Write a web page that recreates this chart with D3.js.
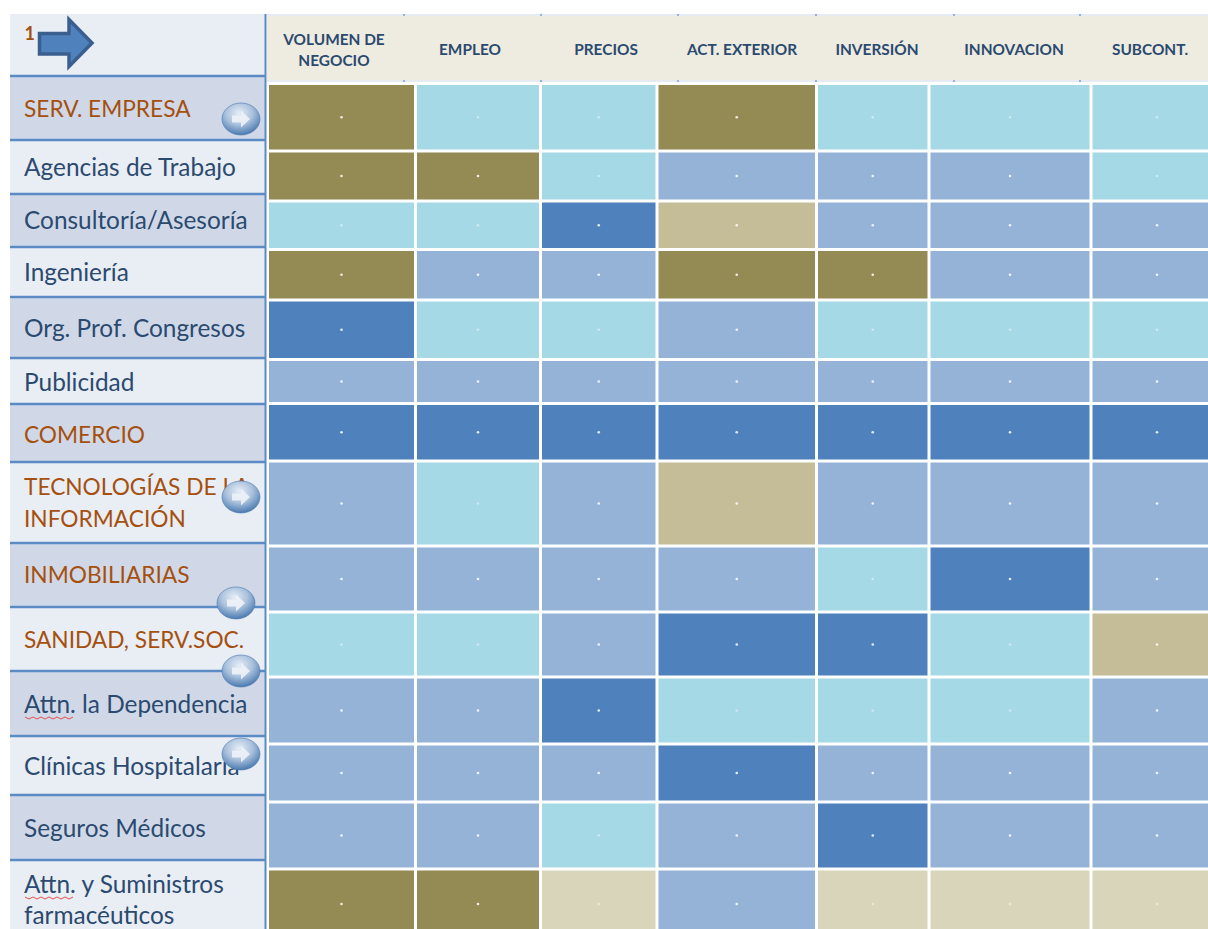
<!DOCTYPE html>
<html>
<head>
<meta charset="utf-8">
<title>Mapa de sectores</title>
<style>
  html, body { margin: 0; padding: 0; background: #fff; overflow: hidden; }
  svg { display: block; }
  text { font-family: Lato, "Open Sans", sans-serif; }
</style>
</head>
<body>
<svg id="chart" width="1208" height="929"></svg>
<script src="https://cdn.jsdelivr.net/npm/d3@7"></script>
<script>
'use strict';

const columns = ['VOLUMEN DE NEGOCIO', 'EMPLEO', 'PRECIOS', 'ACT. EXTERIOR', 'INVERSIÓN', 'INNOVACION', 'SUBCONT.'];

const rows = [
  'SERV. EMPRESA', 'Agencias de Trabajo', 'Consultoría/Asesoría', 'Ingeniería',
  'Org. Prof. Congresos', 'Publicidad', 'COMERCIO', 'TECNOLOGÍAS DE LA INFORMACIÓN',
  'INMOBILIARIAS', 'SANIDAD, SERV.SOC.', 'Attn. la Dependencia', 'Clínicas Hospitalaria',
  'Seguros Médicos', 'Attn. y Suministros farmacéuticos'
];

// Rows that are a whole sector, written in brown in the side panel.
const sectors = ['SERV. EMPRESA', 'COMERCIO', 'TECNOLOGÍAS DE LA INFORMACIÓN', 'INMOBILIARIAS', 'SANIDAD, SERV.SOC.'];

// Level of every cell, row by row, in column order.
const levels = [
  ['olive', 'teal', 'teal', 'olive', 'teal', 'teal', 'teal'],
  ['olive', 'olive', 'teal', 'mid', 'mid', 'mid', 'teal'],
  ['teal', 'teal', 'dark', 'tan', 'mid', 'mid', 'mid'],
  ['olive', 'mid', 'mid', 'olive', 'olive', 'mid', 'mid'],
  ['dark', 'teal', 'teal', 'mid', 'teal', 'teal', 'teal'],
  ['mid', 'mid', 'mid', 'mid', 'mid', 'mid', 'mid'],
  ['dark', 'dark', 'dark', 'dark', 'dark', 'dark', 'dark'],
  ['mid', 'teal', 'mid', 'tan', 'mid', 'mid', 'mid'],
  ['mid', 'mid', 'mid', 'mid', 'teal', 'dark', 'mid'],
  ['teal', 'teal', 'mid', 'dark', 'dark', 'teal', 'tan'],
  ['mid', 'mid', 'dark', 'teal', 'teal', 'teal', 'mid'],
  ['mid', 'mid', 'mid', 'dark', 'mid', 'mid', 'mid'],
  ['mid', 'mid', 'teal', 'mid', 'dark', 'mid', 'mid'],
  ['olive', 'olive', 'pale', 'mid', 'pale', 'pale', 'pale']
];

const levelNames = ['olive', 'teal', 'mid', 'dark', 'tan', 'pale'];
const levelColors = ['#948a54', '#a5d9e5', '#95b3d7', '#4f81bd', '#c4bd97', '#d9d5ba'];

// Layout of the picture: the grid is not regular, so band edges are listed.
// The last column and row run on past the edge of the picture.
const colEdges = [267.5, 415.5, 540.5, 657, 816.5, 929, 1091, 1223];
const rowEdges = [83.5, 151, 201, 249.5, 300, 359.5, 403.5, 461, 546, 612, 677, 744, 802, 869, 939];
const headEdges = [267, 404, 541, 678, 816, 954, 1080, 1208];
const headLabelX = [334, 470, 606, 742, 877, 1014, 1150];
const panelEdges = [14, 76, 140, 194, 247, 297, 358, 404, 462, 543, 607, 671, 736, 795, 860, 929];
const panelLabelY = [[117], [176], [229], [281], [337], [391], [443], [495, 527], [583], [648], [713], [775], [837], [893, 924]];
const buttons = [[241, 119], [241, 497], [236, 603], [241, 671], [241, 754]];

const svg = d3.select('#chart');
const color = d3.scaleOrdinal().domain(levelNames).range(levelColors);

// Piecewise linear scales: index of a band -> its edge.
const x = d3.scaleLinear().domain(d3.range(colEdges.length)).range(colEdges);
const y = d3.scaleLinear().domain(d3.range(rowEdges.length)).range(rowEdges);
const headX = d3.scaleLinear().domain(d3.range(headEdges.length)).range(headEdges);
const panelY = d3.scaleLinear().domain(d3.range(panelEdges.length)).range(panelEdges);

const defs = svg.append('defs');
const glass = defs.append('radialGradient').attr('id', 'glass')
  .attr('cx', '45%').attr('cy', '32%').attr('r', '72%');
glass.append('stop').attr('offset', '0%').attr('stop-color', '#e6edf6');
glass.append('stop').attr('offset', '50%').attr('stop-color', '#a9c0dc');
glass.append('stop').attr('offset', '85%').attr('stop-color', '#5f8aba');
glass.append('stop').attr('offset', '100%').attr('stop-color', '#3f6fa6');
const blur = defs.append('filter').attr('id', 'soft');
blur.append('feGaussianBlur').attr('stdDeviation', 0.7);

/* side panel */
const panel = svg.append('g').attr('class', 'panel');

panel.selectAll('rect')
  .data(d3.range(panelEdges.length - 1))
  .join('rect')
  .attr('x', 10)
  .attr('width', 255)
  .attr('y', i => panelY(i))
  .attr('height', i => panelY(i + 1) - panelY(i))
  .attr('fill', i => (i % 2 ? '#d0d8e8' : '#e9edf4'));

panel.selectAll('line.sep')
  .data(d3.range(1, panelEdges.length - 1))
  .join('line')
  .attr('class', 'sep')
  .attr('x1', 10)
  .attr('x2', 265)
  .attr('y1', i => panelY(i))
  .attr('y2', i => panelY(i))
  .attr('stroke', '#5b8bc4')
  .attr('stroke-width', 2.5);

panel.append('line')
  .attr('x1', 265.5).attr('x2', 265.5)
  .attr('y1', 14).attr('y2', 929)
  .attr('stroke', '#5b8bc4')
  .attr('stroke-width', 2);

// Row names, some of them on two lines.
const rowLines = rows.map((name, i) => {
  if (panelLabelY[i].length === 1) return [name];
  return name.startsWith('TECNO')
    ? ['TECNOLOGÍAS DE LA', 'INFORMACIÓN']
    : ['Attn. y Suministros', 'farmacéuticos'];
});

panel.selectAll('text.row')
  .data(rows.flatMap((name, i) => rowLines[i].map((line, k) => ({ name, line, base: panelLabelY[i][k] }))))
  .join('text')
  .attr('class', 'row')
  .attr('x', 24)
  .attr('y', d => d.base)
  .attr('font-size', d => (sectors.includes(d.name) ? 22.7 : 24.4))
  .attr('fill', d => (sectors.includes(d.name) ? '#a5500f' : '#2b4a6f'))
  .text(d => d.line);

// Red spell-check marks under "Attn."
panel.selectAll('path.squiggle')
  .data([717, 897])
  .join('path')
  .attr('class', 'squiggle')
  .attr('d', base => d3.line().curve(d3.curveLinear)(d3.range(13).map(i => [25 + i * 4, base + (i % 2) * 2])))
  .attr('fill', 'none')
  .attr('stroke', '#e05050')
  .attr('stroke-width', 1);

// Big arrow and the number in the corner.
panel.append('path')
  .attr('d', 'M39.5,33.5 H69 V19.5 L92,43 L69,66.5 V54 H39.5 Z')
  .attr('fill', '#4f81bd')
  .attr('stroke', '#3a5f8f')
  .attr('stroke-width', 3.5);
panel.append('text')
  .attr('x', 24.5).attr('y', 40)
  .attr('font-size', 18)
  .attr('font-weight', 700)
  .attr('fill', '#a5500f')
  .text('1');

/* header */
const head = svg.append('g').attr('class', 'head');

head.append('rect')
  .attr('x', 267).attr('y', 14).attr('width', 941).attr('height', 68)
  .attr('fill', '#e6ebf2');
head.append('rect')
  .attr('x', 267).attr('y', 16).attr('width', 941).attr('height', 64)
  .attr('fill', '#eeece1');

head.selectAll('path.tick')
  .data(d3.range(1, headEdges.length - 1))
  .join('path')
  .attr('class', 'tick')
  .attr('d', i => `M${headX(i)},14V16M${headX(i)},80V82`)
  .attr('stroke', '#7f9fcc')
  .attr('stroke-width', 1.5);

const headLines = columns.map(c => (c.startsWith('VOLUMEN') ? ['VOLUMEN DE', 'NEGOCIO'] : [c]));

head.selectAll('text')
  .data(columns.flatMap((c, i) => headLines[i].map((line, k) => ({
    i, line, k, n: headLines[i].length
  }))))
  .join('text')
  .attr('x', d => headLabelX[d.i])
  .attr('y', d => (d.n === 1 ? 54.5 : 44.5 + d.k * 21.5))
  .attr('text-anchor', 'middle')
  .attr('font-size', 15.4)
  .attr('font-weight', 700)
  .attr('fill', '#2b4a6f')
  .text(d => d.line);

/* cells */
const cells = rows.flatMap((r, ri) => columns.map((c, ci) => ({ ri, ci, level: levels[ri][ci] })));

svg.append('g').attr('class', 'cells')
  .selectAll('rect')
  .data(cells)
  .join('rect')
  .attr('x', d => x(d.ci) + 1.5)
  .attr('y', d => y(d.ri) + 1.5)
  .attr('width', d => x(d.ci + 1) - x(d.ci) - 3)
  .attr('height', d => y(d.ri + 1) - y(d.ri) - 3)
  .attr('fill', d => color(d.level));

// The unreadable tiny value in the middle of every cell.
svg.append('g').attr('class', 'dots')
  .selectAll('circle')
  .data(cells)
  .join('circle')
  .attr('cx', d => (x(d.ci) + x(d.ci + 1)) / 2)
  .attr('cy', d => (y(d.ri) + y(d.ri + 1)) / 2)
  .attr('r', 1.3)
  .attr('fill', '#fff')
  .attr('opacity', d => (['teal', 'pale'].includes(d.level) ? 0.45 : 0.85));

/* round buttons over the panel */
const button = svg.append('g').attr('class', 'buttons')
  .selectAll('g')
  .data(buttons)
  .join('g')
  .attr('transform', d => `translate(${d[0]},${d[1]})`);

button.append('ellipse')
  .attr('rx', 19).attr('ry', 16)
  .attr('fill', 'url(#glass)')
  .attr('stroke', '#4a77ad')
  .attr('stroke-opacity', 0.6)
  .attr('stroke-width', 1)
  .attr('filter', 'url(#soft)');

button.append('path')
  .attr('d', 'M-9,-3.5H0V-8.5L9,0L0,8.5V3.5H-9Z')
  .attr('fill', '#eef2f8')
  .attr('opacity', 0.9);
</script>
</body>
</html>
